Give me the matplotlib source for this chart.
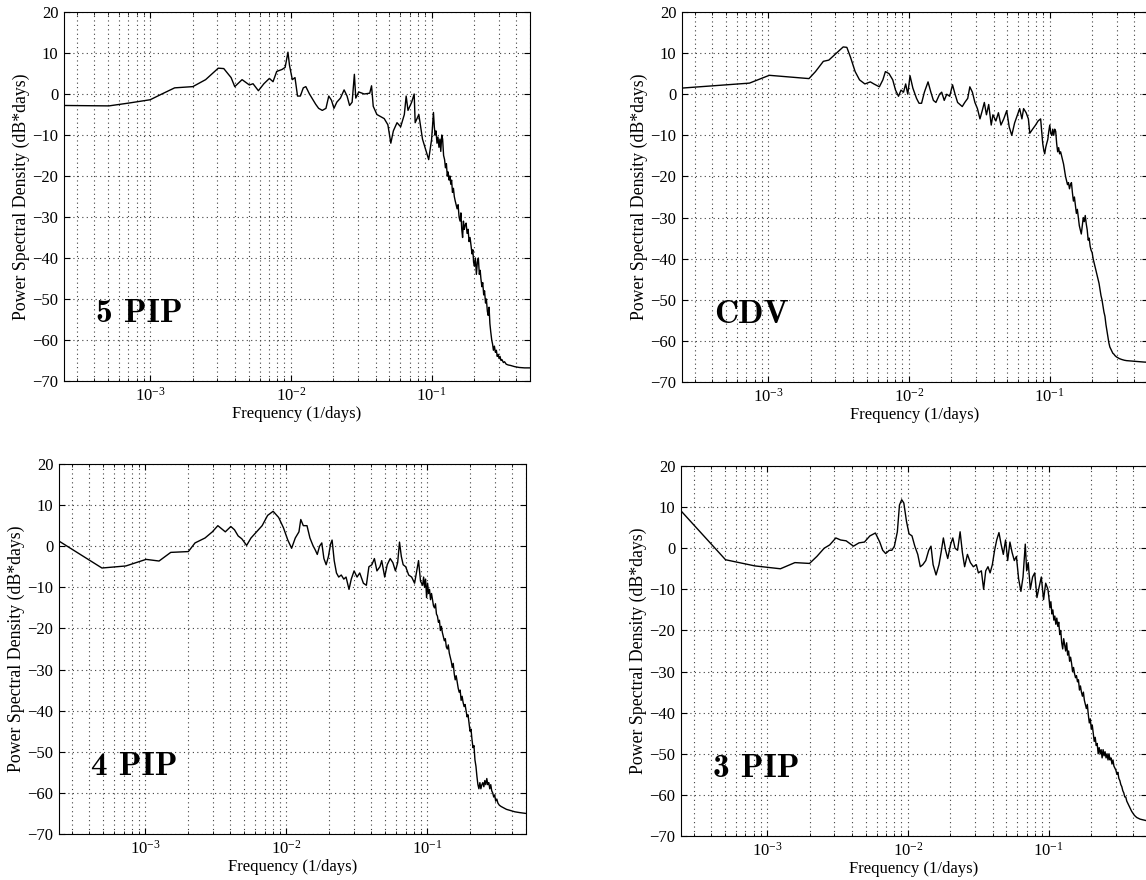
import numpy as np
import matplotlib.pyplot as plt
from matplotlib.ticker import LogLocator, NullFormatter, MultipleLocator

plt.rcParams['font.family'] = ['Liberation Serif', 'DejaVu Serif']
plt.rcParams['mathtext.fontset'] = 'custom'
plt.rcParams['mathtext.rm'] = 'Liberation Serif'
plt.rcParams['mathtext.it'] = 'Liberation Serif:italic'
plt.rcParams['font.size'] = 12

# --- spectra: log10 frequency (1/days) and PSD (dB*days) ---
lf_5pip = [-3.61, -3.293, -3.150, -3.000, -2.917, -2.826, -2.697, -2.606, -2.516, -2.477,
           -2.425, -2.399, -2.347, -2.295, -2.269, -2.231, -2.192, -2.153, -2.127, -2.101,
           -2.062, -2.041, -2.021, -2.010, -1.990, -1.971, -1.953, -1.933, -1.912, -1.894,
           -1.868, -1.842, -1.824, -1.803, -1.777, -1.751, -1.731, -1.712, -1.694, -1.674,
           -1.648, -1.622, -1.601, -1.583, -1.565, -1.549, -1.539, -1.518, -1.479, -1.440,
           -1.427, -1.415, -1.389, -1.363, -1.337, -1.311, -1.290, -1.272, -1.246, -1.220,
           -1.194, -1.181, -1.168, -1.142, -1.124, -1.117, -1.091, -1.065, -1.039, -1.021,
           -1.000, -0.994, -0.987, -0.981, -0.975, -0.969, -0.962, -0.955, -0.948, -0.941,
           -0.935, -0.928, -0.922, -0.915, -0.908, -0.902, -0.895, -0.889, -0.883, -0.876,
           -0.870, -0.864, -0.858, -0.852, -0.845, -0.839, -0.833, -0.826, -0.819, -0.812,
           -0.805, -0.798, -0.792, -0.786, -0.780, -0.774, -0.768, -0.762, -0.755, -0.748,
           -0.741, -0.734, -0.727, -0.720, -0.713, -0.707, -0.702, -0.696, -0.689, -0.682,
           -0.675, -0.668, -0.661, -0.655, -0.650, -0.643, -0.637, -0.630, -0.624, -0.617,
           -0.611, -0.604, -0.598, -0.592, -0.586, -0.580, -0.573, -0.567, -0.561, -0.554,
           -0.547, -0.540, -0.534, -0.527, -0.521, -0.514, -0.507, -0.500, -0.490, -0.482,
           -0.470, -0.455, -0.440, -0.430, -0.410, -0.378, -0.340, -0.301]
db_5pip = [-2.8, -2.9, -2.2, -1.4, 0.0, 1.5, 1.8, 3.5, 6.3, 6.2,
           4.0, 1.8, 3.5, 2.2, 2.5, 0.8, 2.5, 3.8, 3.0, 5.5,
           6.0, 6.5, 10.2, 7.0, 3.5, 4.0, -0.5, -0.5, 1.5, 1.8,
           0.0, -1.5, -2.5, -3.5, -4.0, -3.5, -0.5, -1.5, -3.5, -2.0,
           -1.0, 1.0, -0.5, -2.8, -2.0, 4.8, -1.0, 0.5, 0.0, 0.2,
           2.0, -3.0, -5.0, -5.5, -6.0, -7.5, -12.0, -9.0, -7.0, -8.0,
           -5.0, -0.5, -4.0, -2.0, 0.0, -7.0, -5.0, -11.0, -14.0, -16.0,
           -11, -8, -4.5, -8, -10, -9, -12, -10.5, -13, -11,
           -14, -10, -11, -15, -16, -18, -17, -20, -19, -21,
           -20, -22, -21, -24, -23, -25, -26, -27, -28, -27,
           -30, -31, -29, -33, -35, -31, -33, -32, -31.5, -34,
           -33, -36, -35, -37, -39, -38, -41, -42, -40, -44,
           -41, -40, -44, -43, -45, -47, -46, -49, -48, -51,
           -50, -53, -54, -52, -56, -58, -60, -61, -62.5, -61.5,
           -63, -62.5, -64, -63.5, -64.5, -64, -65, -64.8, -65.5, -65.3,
           -65.9, -66.1, -66.2, -66.3, -66.5, -66.7, -66.8, -66.8]

lf_cdv = [-3.61, -3.133, -2.992, -2.710, -2.664, -2.608, -2.569, -2.531, -2.467, -2.441,
          -2.415, -2.382, -2.351, -2.313, -2.274, -2.249, -2.210, -2.185, -2.167, -2.141,
          -2.115, -2.095, -2.074, -2.056, -2.038, -2.023, -2.008, -1.992, -1.972, -1.946,
          -1.928, -1.910, -1.890, -1.864, -1.844, -1.826, -1.808, -1.782, -1.767, -1.749,
          -1.731, -1.710, -1.690, -1.672, -1.654, -1.638, -1.621, -1.603, -1.582, -1.567,
          -1.549, -1.531, -1.513, -1.495, -1.479, -1.464, -1.449, -1.433, -1.415, -1.403,
          -1.382, -1.364, -1.346, -1.326, -1.305, -1.287, -1.269, -1.249, -1.228, -1.213,
          -1.197, -1.185, -1.167, -1.151, -1.141, -1.121, -1.100, -1.082, -1.064,
          -1.049, -1.042, -1.035, -1.028, -1.021, -1.013, -1.006, -0.999, -0.992, -0.985,
          -0.978, -0.971, -0.964, -0.957, -0.950, -0.943, -0.936, -0.929, -0.922, -0.915,
          -0.908, -0.901, -0.894, -0.887, -0.880, -0.873, -0.866, -0.859, -0.852, -0.845,
          -0.838, -0.831, -0.824, -0.817, -0.810, -0.803, -0.796, -0.789, -0.782, -0.775,
          -0.768, -0.761, -0.754, -0.747, -0.740, -0.733, -0.726, -0.719, -0.712, -0.705,
          -0.698, -0.691, -0.684, -0.677, -0.670, -0.663, -0.656, -0.649, -0.642, -0.635,
          -0.628, -0.621, -0.614, -0.607, -0.600, -0.593, -0.586, -0.579, -0.572, -0.565,
          -0.558, -0.551, -0.544, -0.535, -0.525, -0.515, -0.505, -0.490, -0.470, -0.454,
          -0.420, -0.390, -0.356, -0.330, -0.301]
db_cdv = [1.5, 2.7, 4.6, 3.8, 5.5, 8.0, 8.3, 9.5, 11.5, 11.4,
          9.0, 5.5, 3.5, 2.5, 3.0, 2.5, 1.8, 3.5, 5.5, 5.0,
          3.5, 1.0, -0.5, 1.0, 0.5, 2.5, 0.0, 4.5, 1.5, -1.0,
          -2.2, -2.2, 0.5, 3.0, 0.5, -1.5, -2.0, 0.0, 0.5, -1.5,
          0.0, -0.5, 2.3, 0.0, -2.0, -2.5, -3.0, -2.0, -1.0, 1.8,
          0.5, -2.0, -3.5, -6.0, -4.0, -2.0, -5.0, -2.5, -7.5, -5.0,
          -6.5, -4.5, -7.5, -6.0, -4.0, -8.0, -10.0, -7.0, -5.0, -3.5,
          -6.0, -3.5, -4.5, -6.0, -9.5, -8.5, -7.5, -6.5, -6.0,
          -12, -13.5, -14.5, -13, -12, -11, -9, -7.5, -9.5, -10,
          -8.5, -10, -8.5, -9, -12, -14, -13, -14.5, -14, -15,
          -16, -17, -18.5, -20, -21, -22, -21.5, -23, -22, -21.5,
          -24, -26, -25, -27, -29, -28, -30, -32, -33, -34,
          -32, -30, -31, -29.5, -31.5, -33, -35.5, -35, -37, -38,
          -38.5, -40, -41, -42, -43, -44, -45, -46, -47.5, -49,
          -50, -51.5, -53, -54, -56, -57.5, -59, -60.5, -61.5, -62,
          -62.5, -63, -63.2, -63.6, -63.9, -64.1, -64.3, -64.5, -64.7, -64.8,
          -64.9, -65, -65.1, -65.15, -65.2]

lf_4pip = [-3.61, -3.308, -3.138, -2.995, -2.903, -2.820, -2.695, -2.648, -2.577, -2.525,
           -2.486, -2.433, -2.394, -2.368, -2.342, -2.316, -2.282, -2.251, -2.211, -2.172,
           -2.133, -2.094, -2.055, -2.021, -1.990, -1.963, -1.937, -1.911, -1.898, -1.880,
           -1.854, -1.833, -1.812, -1.794, -1.781, -1.765, -1.749, -1.734, -1.718, -1.702,
           -1.687, -1.676, -1.661, -1.645, -1.629, -1.611, -1.593, -1.577, -1.556, -1.540,
           -1.520, -1.499, -1.480, -1.454, -1.433, -1.415, -1.394, -1.376, -1.358, -1.337,
           -1.324, -1.303, -1.285, -1.264, -1.245, -1.227, -1.211, -1.198, -1.185, -1.172,
           -1.154, -1.133, -1.112, -1.091, -1.076, -1.063, -1.049,
           -1.034, -1.027, -1.020, -1.013, -1.006, -0.999, -0.992, -0.985, -0.978, -0.971,
           -0.964, -0.957, -0.950, -0.943, -0.936, -0.929, -0.922, -0.915, -0.908, -0.901,
           -0.894, -0.887, -0.880, -0.873, -0.866, -0.859, -0.852, -0.845, -0.838, -0.831,
           -0.824, -0.817, -0.810, -0.803, -0.796, -0.789, -0.782, -0.775, -0.768, -0.761,
           -0.754, -0.747, -0.740, -0.733, -0.726, -0.719, -0.712, -0.705, -0.698, -0.691,
           -0.684, -0.677, -0.670, -0.663, -0.656, -0.649, -0.642, -0.635, -0.628, -0.621,
           -0.614, -0.607, -0.600, -0.593, -0.586, -0.579, -0.572, -0.565, -0.558, -0.551,
           -0.544, -0.537, -0.530, -0.523, -0.516, -0.508, -0.500, -0.490, -0.478, -0.462,
           -0.440, -0.410, -0.380, -0.345, -0.301]
db_4pip = [1.2, -5.3, -4.8, -3.2, -3.6, -1.5, -1.3, 0.8, 2.0, 3.5,
           5.0, 3.5, 4.8, 4.0, 2.5, 1.8, 0.2, 2.0, 3.5, 5.0,
           7.5, 8.5, 7.0, 4.5, 1.5, -0.5, 2.0, 3.5, 6.5, 5.0,
           5.0, 2.0, 0.2, -1.0, -2.0, 0.0, 0.8, -3.0, -4.5, -2.5,
           0.5, 1.5, -3.5, -6.5, -7.5, -7.0, -8.0, -7.5, -10.5, -8.0,
           -6.0, -7.5, -6.5, -9.0, -9.5, -5.0, -4.5, -3.0, -6.0, -5.0,
           -3.5, -7.5, -4.5, -3.0, -4.0, -6.0, -4.0, 1.0, -2.5, -4.5,
           -5.0, -7.0, -7.5, -9.0, -6.0, -3.5, -8.5,
           -9.5, -7.5, -10, -8, -12.5, -9, -11.5, -10.5, -13, -11.5,
           -13, -14.5, -15, -14, -16.5, -17, -18.5, -18, -20.5, -19.5,
           -21, -22, -23, -22.5, -24.5, -25, -24, -26, -27, -28,
           -29.5, -28.5, -31, -32.5, -31.5, -33, -34.5, -35.5, -35, -37.5,
           -36.5, -38, -39, -38.5, -40, -41.5, -41, -43, -45, -44.5,
           -47, -49, -48.5, -52, -53.5, -56, -58, -59, -57.5, -59,
           -58, -57.5, -58.5, -57, -58, -56.5, -58, -57.5, -59, -58,
           -59.5, -60, -61, -60.5, -62, -61.5, -62.5, -63, -63.3, -63.6,
           -64, -64.3, -64.6, -64.8, -65]

lf_3pip = [-3.61, -3.296, -3.088, -2.906, -2.803, -2.699, -2.647, -2.595, -2.556, -2.512,
           -2.478, -2.439, -2.387, -2.348, -2.309, -2.270, -2.231, -2.200, -2.179, -2.158,
           -2.132, -2.114, -2.096, -2.075, -2.060, -2.044, -2.029, -2.010, -1.992, -1.971,
           -1.951, -1.930, -1.912, -1.894, -1.873, -1.852, -1.836, -1.821, -1.800, -1.779,
           -1.764, -1.748, -1.732, -1.717, -1.696, -1.681, -1.665, -1.647, -1.629, -1.613,
           -1.597, -1.577, -1.556, -1.535, -1.514, -1.499, -1.478, -1.462, -1.447, -1.431,
           -1.416, -1.400, -1.384, -1.369, -1.353, -1.338, -1.322, -1.306, -1.291, -1.275,
           -1.260, -1.244, -1.229, -1.213, -1.197, -1.182, -1.166, -1.156, -1.145, -1.130,
           -1.114, -1.099, -1.083, -1.068, -1.052, -1.036, -1.021,
           -1.005, -0.998, -0.991, -0.984, -0.977, -0.970, -0.963, -0.956, -0.949, -0.942,
           -0.935, -0.928, -0.921, -0.914, -0.907, -0.900, -0.893, -0.886, -0.879, -0.872,
           -0.865, -0.858, -0.851, -0.844, -0.837, -0.830, -0.823, -0.816, -0.809, -0.802,
           -0.795, -0.788, -0.781, -0.774, -0.767, -0.760, -0.753, -0.746, -0.739, -0.732,
           -0.725, -0.718, -0.711, -0.704, -0.697, -0.690, -0.683, -0.676, -0.669, -0.662,
           -0.655, -0.648, -0.641, -0.634, -0.627, -0.620, -0.613, -0.606, -0.599, -0.592,
           -0.585, -0.578, -0.571, -0.564, -0.557, -0.550, -0.543, -0.536, -0.529, -0.522,
           -0.515, -0.508, -0.501, -0.494, -0.487, -0.480, -0.473, -0.466, -0.459, -0.452,
           -0.445, -0.438, -0.431, -0.424, -0.417, -0.410, -0.400, -0.390, -0.374, -0.350,
           -0.325, -0.301]
db_3pip = [9.0, -2.8, -4.3, -5.0, -3.5, -3.7, -2.0, 0.0, 0.8, 2.5,
           2.0, 1.8, 0.5, 1.3, 1.5, 3.0, 3.7, 1.5, -0.5, -1.3,
           -0.5, -0.5, 0.5, 4.0, 10.5, 11.8, 11.0, 6.5, 3.5, 3.0,
           0.5, -1.5, -4.5, -4.0, -3.0, -0.5, 0.5, -4.0, -6.5, -4.0,
           -1.0, 2.5, -0.5, -2.5, 1.0, 2.5, 0.0, -0.5, 4.0, -1.0,
           -4.5, -1.5, -3.5, -4.5, -4.0, -6.0, -5.5, -10.0, -5.5, -4.5,
           -6.0, -4.0, -0.5, 2.0, 3.8, 1.0, -1.5, 2.0, -3.0, 1.5,
           -1.0, -3.0, -2.0, -7.5, -10.5, -7.0, 1.0, -5.5, -3.5, -10.0,
           -7.0, -6.0, -12.0, -9.5, -7.0, -12.5, -8.5,
           -10, -12, -14.5, -13, -16, -15, -17.5, -16.5, -18.5, -17,
           -19, -18, -21, -20, -23, -24.5, -22, -23.5, -25, -23,
           -26, -25, -27.5, -26.5, -28, -30, -29, -30.5, -31.5, -31,
           -32.5, -32, -34.5, -33.5, -35, -36, -35, -37, -38, -39,
           -38, -40.5, -42.5, -41.5, -44, -43, -45, -47, -46, -48,
           -47.5, -50, -48.5, -50, -49, -51, -49, -50.5, -49.5, -51,
           -50, -51.5, -50, -51.5, -51, -52.5, -51.5, -53, -53.5, -54,
           -55, -54.5, -56, -56.5, -57.5, -58, -59, -59.5, -60.5, -60.5,
           -61.5, -62, -62.5, -63, -63.5, -64, -64.5, -65, -65.5, -65.9,
           -66.1, -66.3]

panel_names = ['5 PIP', 'CDV', '4 PIP', '3 PIP']
spectra = [(lf_5pip, db_5pip), (lf_cdv, db_cdv), (lf_4pip, db_4pip), (lf_3pip, db_3pip)]

W, H = 1146, 880
# axes boxes in pixels: left, top, right, bottom
boxes = [(64, 12, 530, 381), (682, 12, 1148, 382),
         (59, 464, 526, 834), (681, 466, 1147, 836)]

fig = plt.figure(figsize=(W / 100, H / 100), dpi=100)

for name, (lf, db), (l, t, r, b) in zip(panel_names, spectra, boxes):
    ax = fig.add_axes([l / W, 1 - b / H, (r - l) / W, (b - t) / H])
    ax.plot(10 ** np.array(lf), db, color='black', linewidth=1.0)
    ax.set_xscale('log')
    ax.set_xlim(1 / 4096, 0.5)
    ax.set_ylim(-70, 20)
    ax.yaxis.set_major_locator(MultipleLocator(10))
    ax.xaxis.set_major_locator(LogLocator(base=10, numticks=10))
    ax.xaxis.set_minor_locator(LogLocator(base=10, subs=np.arange(2, 10), numticks=20))
    ax.xaxis.set_minor_formatter(NullFormatter())
    grid_style = dict(linestyle=(0, (1, 3)), color='0.25', linewidth=0.8)
    ax.grid(which='major', **grid_style)
    ax.grid(which='minor', axis='x', **grid_style)
    ax.tick_params(which='both', direction='in', top=True, right=True, labelsize=12, pad=4)
    ax.tick_params(which='major', length=4)
    ax.tick_params(which='minor', length=2)
    for s in ax.spines.values():
        s.set_linewidth(0.8)
    ax.set_xlabel('Frequency (1/days)', fontsize=12, labelpad=1)
    ax.set_ylabel('Power Spectral Density (dB*days)', fontsize=12.8, labelpad=2)
    ax.text(4.1e-4, -53.5, name, fontfamily='cmb10', fontsize=24, va='center', ha='left')

fig.savefig('out.png', dpi=100)
